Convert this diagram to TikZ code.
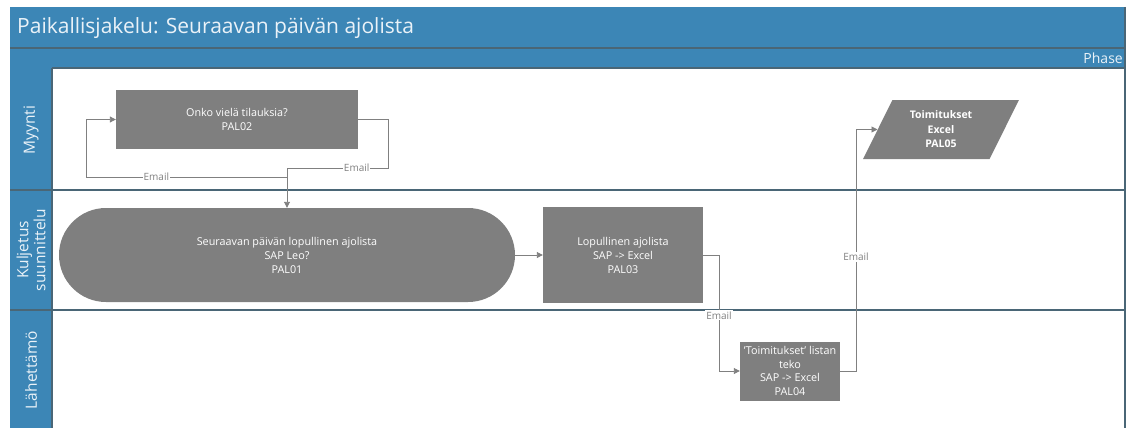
\documentclass[tikz,border=0pt]{standalone}
\usepackage{fontspec}
\setmainfont{Open Sans}
\usetikzlibrary{arrows.meta,shapes.geometric,shapes.misc}
\definecolor{laneblue}{HTML}{3C86B6}
\definecolor{laneline}{HTML}{4A6676}
\definecolor{boxgray}{HTML}{7F7F7F}
\definecolor{conngray}{HTML}{808080}
\definecolor{labeltext}{HTML}{EAF2F8}
\begin{document}
\begin{tikzpicture}[x=1pt,y=-1pt,
  proc/.style={fill=boxgray,draw=none,text=white,font=\fontsize{10.8}{14}\selectfont,align=center,inner sep=2pt},
  conn/.style={draw=conngray,line width=0.9pt,-{Triangle[length=6pt,width=6pt]}},
  mail/.style={fill=white,text=conngray,font=\fontsize{10}{11}\selectfont,inner sep=1pt},
  lanelabel/.style={text=labeltext,font=\fontsize{15.5}{17}\selectfont,rotate=90,align=center},
  sep/.style={draw=laneline,line width=1.1pt}]
\useasboundingbox (0,0) rectangle (1130,428);

% pool frame: title band, phase band, lane header column
\fill[laneblue] (10,7) rectangle (1125,68);
\fill[laneblue] (10,68) rectangle (52,428);
\draw[sep] (10,48) -- (1125,48);
\draw[sep] (52,68) -- (1125,68);
\draw[sep] (10,190) -- (1125,190);
\draw[sep] (10,310) -- (1125,310);
\draw[sep] (52,68) -- (52,428);
\draw[sep] (1125,7) -- (1125,428);
\node[anchor=west,text=labeltext,font=\fontsize{21}{21}\selectfont,inner sep=0pt] (title) at (17,28) {Paikallisjakelu: Seuraavan päivän ajolista};
\node[anchor=east,text=labeltext,font=\fontsize{14}{14}\selectfont,inner sep=0pt] (phase) at (1123,58) {Phase};

% lane headers
\node[lanelabel] (lane1) at (31,130) {Myynti};
\node[lanelabel] (lane2) at (31,250) {Kuljetus\\suunnittelu};
\node[lanelabel] (lane3) at (31,370) {Lähettämö};

% process steps
\node[proc,minimum width=242pt,minimum height=59pt] (pal02) at (237,119.5) {Onko vielä tilauksia?\\PAL02};
\node[proc,rounded rectangle,minimum width=460pt,minimum height=94pt] (pal01) at (287,255) {Seuraavan päivän lopullinen ajolista\\SAP Leo?\\PAL01};
\node[proc,minimum width=160pt,minimum height=96pt] (pal03) at (623,255) {Lopullinen ajolista\\SAP -> Excel\\PAL03};
\node[proc,minimum width=100pt,minimum height=59pt,inner sep=0pt,font=\fontsize{10.8}{13.5}\selectfont] (pal04) at (790,371) {'Toimitukset' listan\\teko\\SAP -> Excel\\PAL04};
\node[proc,trapezium,trapezium left angle=64,trapezium right angle=116,trapezium stretches=true,minimum width=156pt,minimum height=59pt,font=\bfseries\fontsize{10.5}{14.5}\selectfont] (pal05) at (941,129.5) {Toimitukset\\Excel\\PAL05};

% routing points
\coordinate (r1) at (388,168);
\coordinate (r2) at (287,168);
\coordinate (l1) at (287,177);
\coordinate (l2) at (86,177);
\coordinate (b1) at (719,255);
\coordinate (c1) at (856,371);

% connectors
\draw[conn] (pal02.east) -| (r1) -- node[mail,pos=0.31] {Email} (r2) -- (pal01.north);
\draw[conn] (l1) -- node[mail,pos=0.65] {Email} (l2) |- (pal02.west);
\draw[conn] (pal01.east) -- (pal03.west);
\draw[conn] (pal03.east) -- (b1) |- node[mail,pos=0.26] {Email} (pal04.west);
\draw[conn] (pal04.east) -- (c1) |- node[mail,pos=0.236] {Email} (pal05);
\end{tikzpicture}
\end{document}
